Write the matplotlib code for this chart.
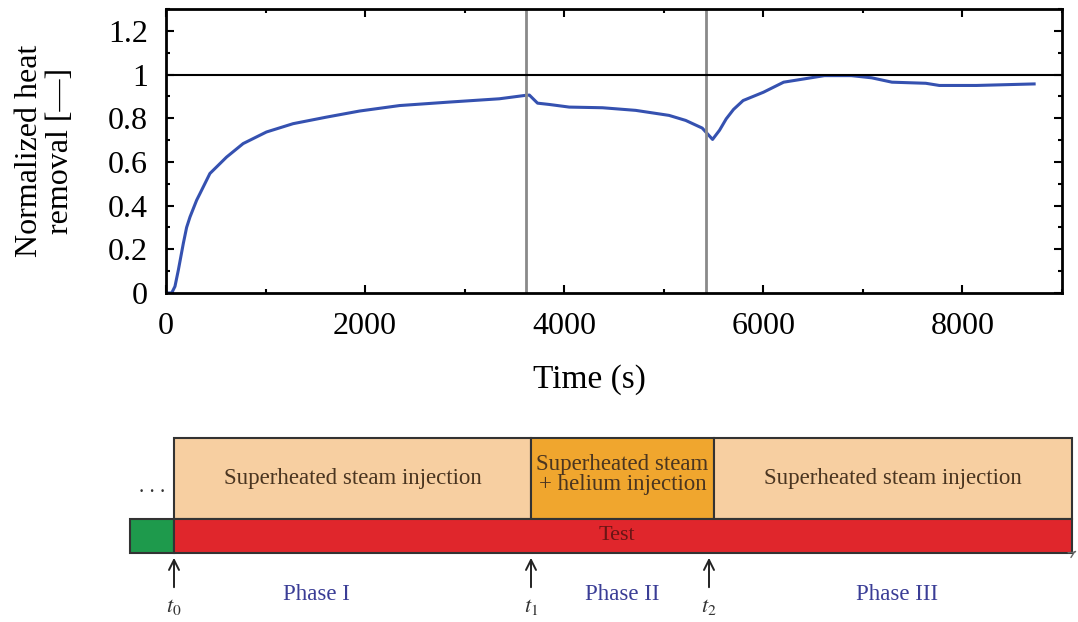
import numpy as np
import matplotlib
matplotlib.use('Agg')
import matplotlib.pyplot as plt
from matplotlib.patches import Rectangle
from matplotlib.ticker import MultipleLocator

plt.rcParams['font.family'] = ['Liberation Serif', 'DejaVu Serif']
plt.rcParams['mathtext.fontset'] = 'stix'

# heat removal curve
time_s = [25, 57, 90, 124, 174, 207, 241, 308, 341, 441, 508, 608, 775, 1009, 1276,
          1611, 1945, 2346, 2847, 3348, 3599, 3650, 3732, 3850, 4050, 4384, 4718,
          5053, 5220, 5386, 5490, 5560, 5627, 5700, 5797, 6001, 6204, 6409, 6613,
          6884, 7088, 7292, 7632, 7768, 8141, 8720]
heat = [0.0, 0.0, 0.03, 0.105, 0.227, 0.30, 0.348, 0.425, 0.455, 0.547, 0.577, 0.622,
        0.684, 0.737, 0.775, 0.805, 0.833, 0.858, 0.874, 0.889, 0.904, 0.906, 0.869,
        0.863, 0.851, 0.848, 0.836, 0.813, 0.790, 0.755, 0.703, 0.745, 0.797, 0.840,
        0.881, 0.919, 0.965, 0.980, 0.995, 0.995, 0.985, 0.965, 0.960, 0.950, 0.950,
        0.957]
switch_times = [3620, 5420]

# timeline diagram (schematic positions)
phase_edges = [174, 531, 714, 1072]
box_labels = ['Superheated steam injection', 'Superheated steam\n+ helium injection',
              'Superheated steam injection']
box_colors = ['#f7cfa1', '#f0a62e', '#f7cfa1']
phase_names = ['Phase I', 'Phase II', 'Phase III']
marker_pos = [174, 531, 709]
marker_labels = ['$t_0$', '$t_1$', '$t_2$']

fig = plt.figure(figsize=(10.78, 6.22), dpi=100)
W, H = 1078, 622

ax = fig.add_axes([166 / W, 1 - 293 / H, (1062 - 166) / W, (293 - 9) / H])
ax.plot(time_s, heat, color='#3551b0', lw=2.2)
for t in switch_times:
    ax.axvline(t, color='#8a8a8a', lw=2)
ax.axhline(1, color='black', lw=1.5)
ax.set_xlim(0, 9000)
ax.set_ylim(0, 1.3)
ax.xaxis.set_major_locator(MultipleLocator(2000))
ax.xaxis.set_minor_locator(MultipleLocator(1000))
ax.yaxis.set_minor_locator(MultipleLocator(0.1))
ax.set_yticks([0, 0.2, 0.4, 0.6, 0.8, 1.0, 1.2])
ax.set_yticklabels(['0', '0.2', '0.4', '0.6', '0.8', '1', '1.2'])
ax.tick_params(which='both', direction='in', top=True, right=True, labelsize=23, width=1.5)
ax.tick_params(which='major', length=6)
ax.tick_params(axis='x', which='major', pad=14)
ax.tick_params(axis='y', which='major', pad=13)
ax.tick_params(which='minor', length=3)
for s in ax.spines.values():
    s.set_linewidth(2)
ax.set_xlabel('Time (s)', fontsize=24)
ax.xaxis.set_label_coords(0.473, -0.25)
ax.set_ylabel('Normalized heat\nremoval [—]', fontsize=23, linespacing=1.05)
ax.yaxis.set_label_coords(-0.135, 0.5)
ax.yaxis.label.set_va('center')

# lower timeline
bx = fig.add_axes([0, 0, 1, 202 / H])
bx.set_xlim(0, W)
bx.set_ylim(622, 420)
bx.axis('off')

top, mid, bot = 438, 519, 553
for i in range(3):
    x0, x1 = phase_edges[i], phase_edges[i + 1]
    bx.add_patch(Rectangle((x0, top), x1 - x0, mid - top, facecolor=box_colors[i],
                           edgecolor='#333333', lw=1.5))
    yc = (top + mid) / 2 - (4 if '\n' in box_labels[i] else 0)
    bx.text((x0 + x1) / 2, yc, box_labels[i], ha='center', va='center',
            fontsize=16.5, color='#4a3520', linespacing=0.95)

bx.add_patch(Rectangle((130, mid), phase_edges[0] - 130, bot - mid, facecolor='#1e9a4c',
                       edgecolor='#333333', lw=1.5))
bx.add_patch(Rectangle((phase_edges[0], mid), phase_edges[-1] - phase_edges[0], bot - mid,
                       facecolor='#e0262c', edgecolor='#333333', lw=1.5))
bx.text(617, (mid + bot) / 2, 'Test', ha='center', va='center', fontsize=16, color='#6a1515')
bx.text(152, 487, '. . .', ha='center', va='center', fontsize=15, color='#333333')
bx.annotate('', xy=(1078, 550), xytext=(1073, 553),
            arrowprops=dict(arrowstyle='->', color='#666666', lw=1))

for xm, lab in zip(marker_pos, marker_labels):
    bx.annotate('', xy=(xm, bot + 2), xytext=(xm, 590),
                arrowprops=dict(arrowstyle='->', color='#222222', lw=1.4,
                                mutation_scale=18))
    bx.text(xm, 607, lab, ha='center', va='center', fontsize=16, color='#333333')

phase_x = [316, 622, 897]
for xp, name in zip(phase_x, phase_names):
    bx.text(xp, 595, name, ha='center', va='center', fontsize=16.5, color='#3a3d96')

fig.savefig('out.png', dpi=100)
